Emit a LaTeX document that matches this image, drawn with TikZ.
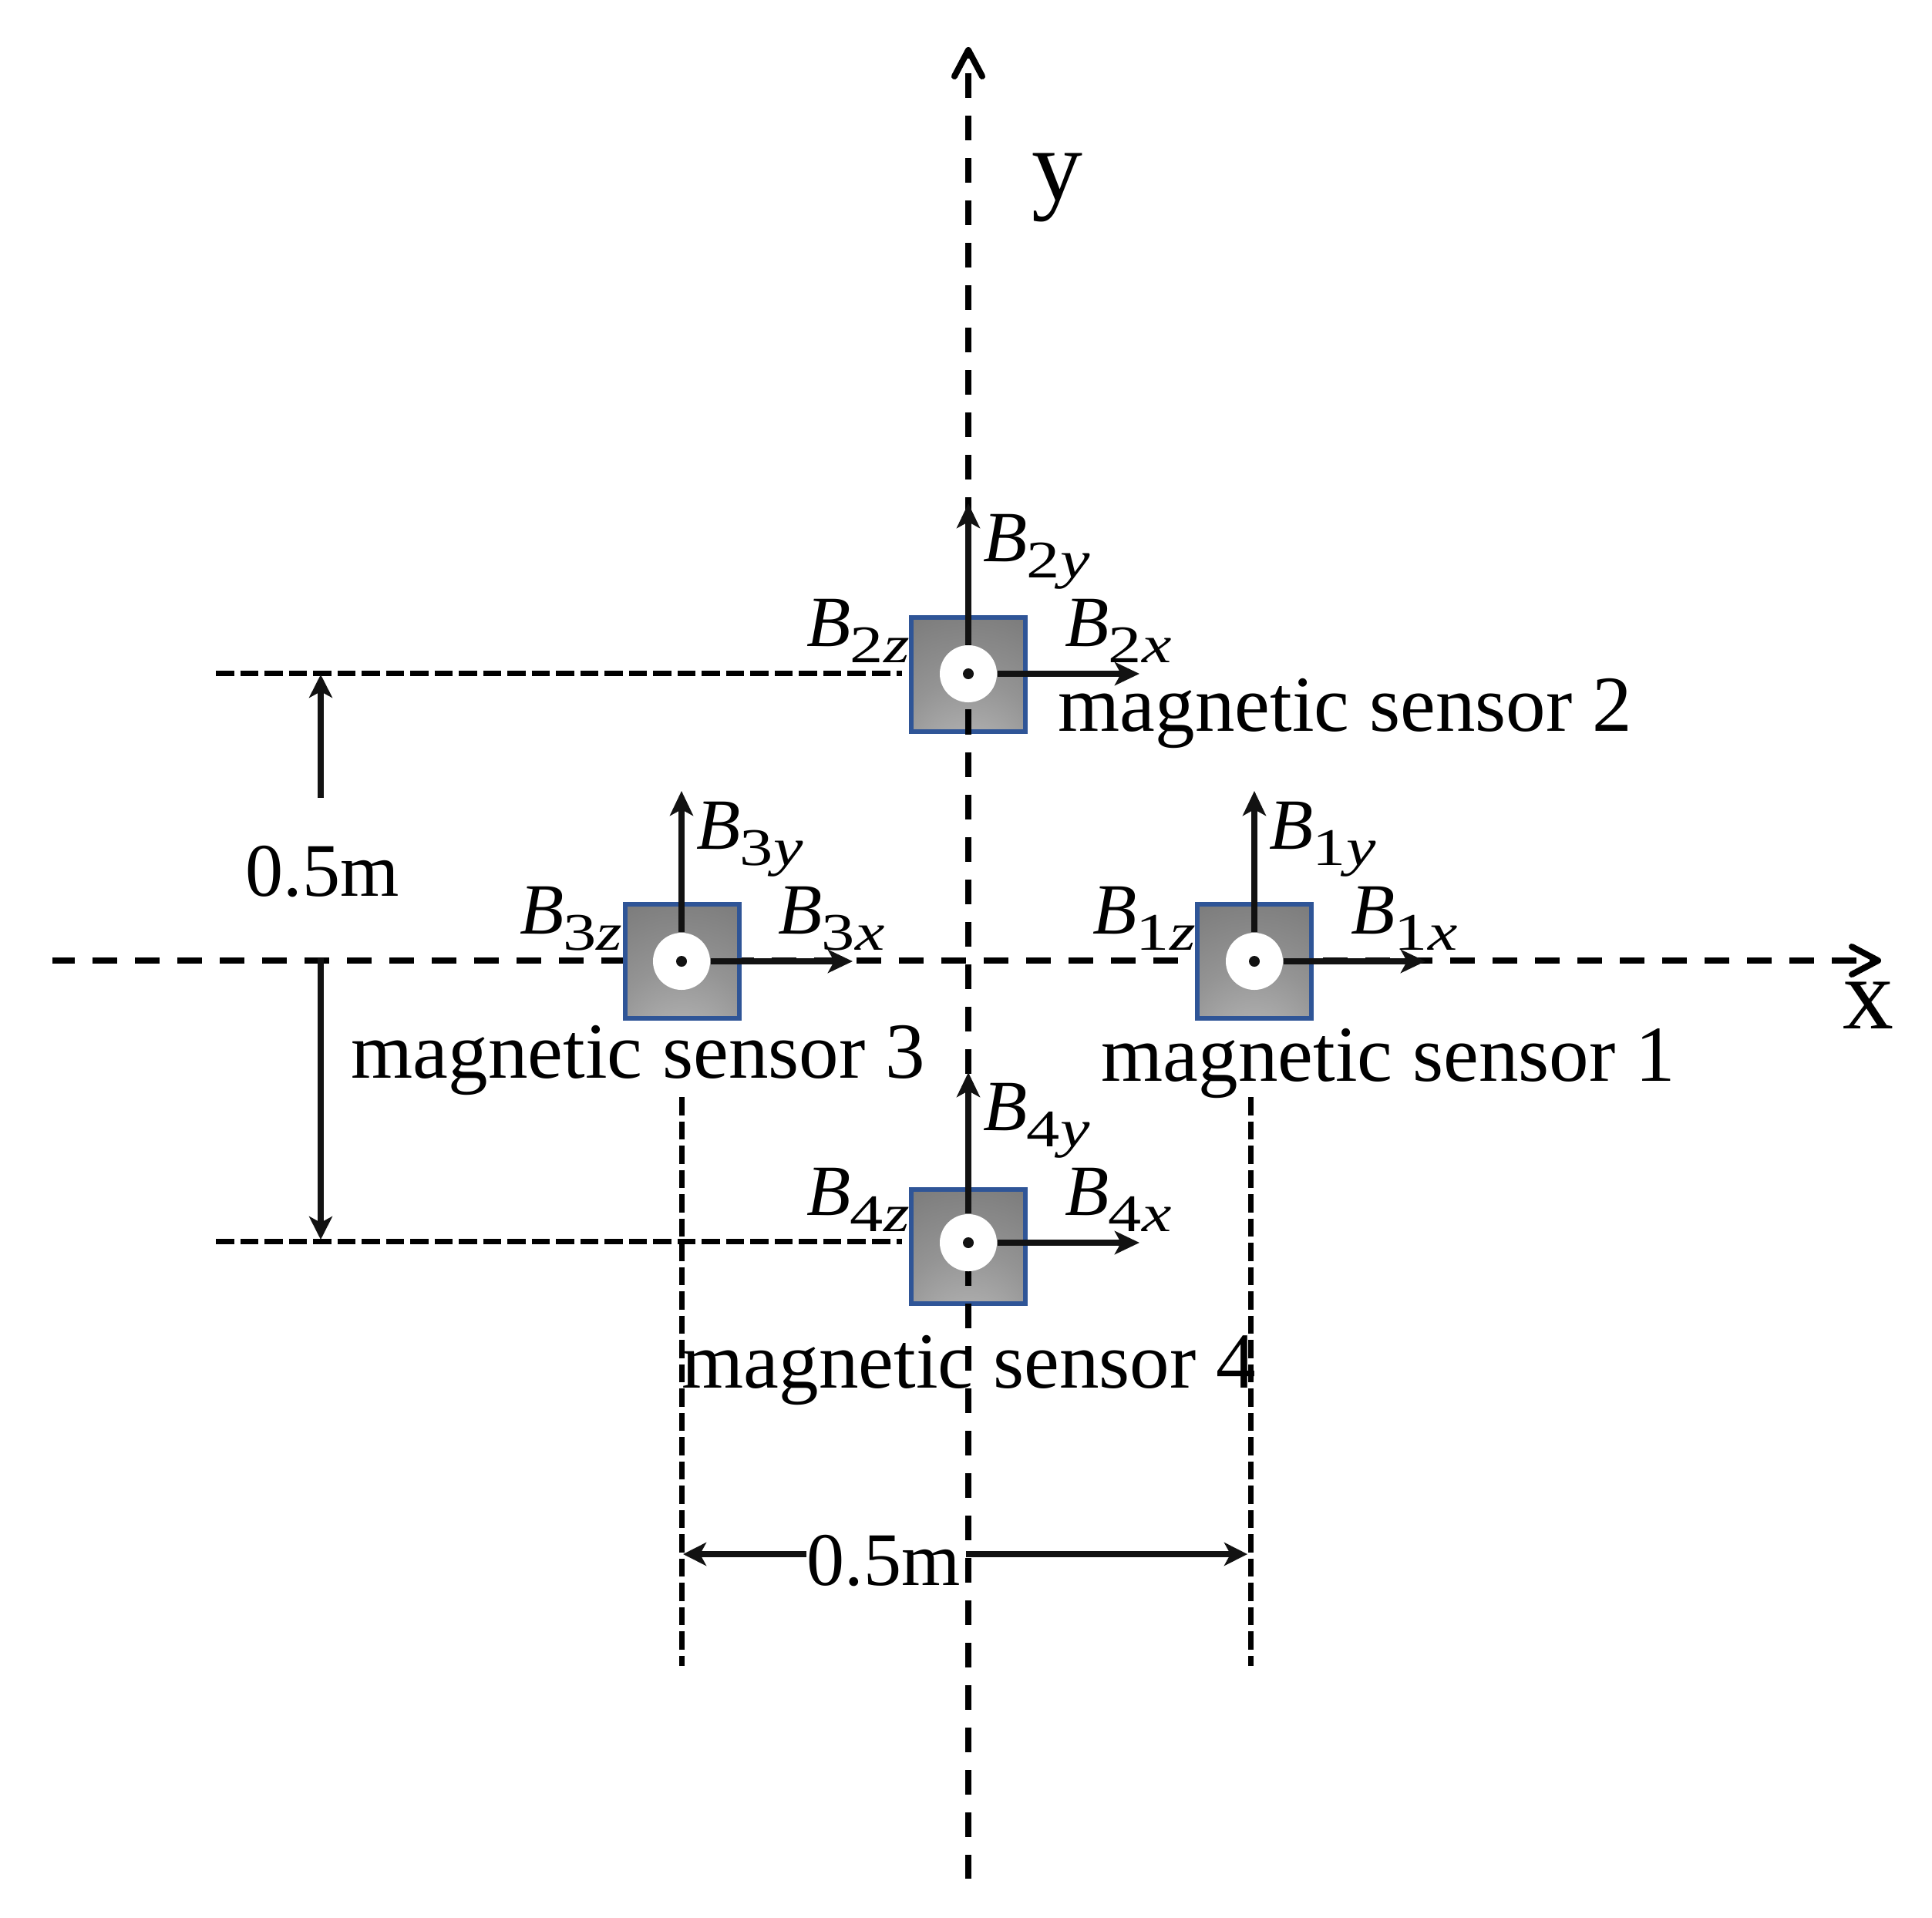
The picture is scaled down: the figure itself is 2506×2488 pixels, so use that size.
\documentclass[tikz,border=0pt]{standalone}
\usepackage{fontspec}
\setmainfont{Liberation Serif}
\usepackage{graphicx}
\usetikzlibrary{arrows.meta}
\pgfdeclareradialshading{sensorshade}{\pgfpoint{0bp}{-50bp}}{%
  rgb(0bp)=(0.77,0.77,0.77);
  rgb(32bp)=(0.58,0.58,0.58);
  rgb(71bp)=(0.41,0.41,0.41);
  rgb(100bp)=(0.36,0.36,0.36)}
\definecolor{sensorblue}{HTML}{2F5597}
\newcommand\Blab[2]{{\fontsize{26.6}{30}\selectfont\itshape B}\kern-0.3pt\raisebox{-6pt}{\scalebox{1.26}[1]{\fontsize{19.5}{20}\selectfont\upshape #1\itshape #2}}}
\tikzset{
  x=0.01cm,y=-0.01cm,
  axisdash/.style={line width=0.08cm,draw=black,dash pattern=on 0.32cm off 0.23cm},
  axistip/.style={line width=0.08cm,draw=black,-{Straight Barb[length=0.34cm,width=0.36cm,round,line width=0.08cm]}},
  guideline/.style={line width=0.07cm,draw=black,dash pattern=on 0.235cm off 0.08cm},
  vecarrow/.style={line width=0.08cm,draw=black!93,-{Stealth[length=0.32cm,width=0.30cm,inset=0.08cm]}},
  dimarrow/.style={line width=0.08cm,draw=black!93,-{Stealth[length=0.30cm,width=0.30cm,inset=0.08cm]}},
  sensorbox/.style={minimum size=1.48cm,inner sep=0pt,line width=0.06cm,draw=sensorblue,shading=sensorshade},
  holecircle/.style={circle,fill=white,minimum size=0.74cm,inner sep=0pt},
  centredot/.style={circle,fill=black!93,minimum size=0.14cm,inner sep=0pt},
  sensorlabel/.style={anchor=base west,inner sep=0pt,font=\fontsize{29.3}{32}\selectfont},
  dimlabel/.style={anchor=base west,inner sep=0pt,font=\fontsize{27.9}{30}\selectfont},
  axislabel/.style={anchor=base west,inner sep=0pt,font=\fontsize{37.5}{40}\selectfont},
  complabel/.style={anchor=base west,inner sep=0pt},
}
\begin{document}
\begin{tikzpicture}
\useasboundingbox (0,0) rectangle (2506,2488);
% horizontal axis and guides under the sensors
\coordinate (xstart) at (68,1246);
\coordinate (xend) at (2408,1246);
\coordinate (xneck) at (2425,1246);
\coordinate (xtip) at (2440,1246);
\draw[axisdash,dash phase=0.03cm] (xstart) -- (xend);
\draw[axistip] (xneck) -- (xtip);
\coordinate (g2a) at (280,873); \coordinate (g2b) at (1170,873);
\coordinate (g4a) at (280,1610); \coordinate (g4b) at (1170,1610);
\draw[guideline] (g2a) -- (g2b);
\draw[guideline] (g4a) -- (g4b);
\coordinate (v3a) at (884,1423); \coordinate (v3b) at (884,2161);
\coordinate (v1a) at (1622,1423); \coordinate (v1b) at (1622,2161);
\draw[guideline] (v3a) -- (v3b);
\draw[guideline] (v1a) -- (v1b);
% sensor squares
\node[sensorbox] (s1) at (1627,1247) {};
\node[sensorbox] (s2) at (1256,875) {};
\node[sensorbox] (s3) at (885,1247) {};
\node[sensorbox] (s4) at (1256,1617) {};
% vertical axis over the squares
\coordinate (ystart) at (1256,95);
\coordinate (yend) at (1256,2437);
\coordinate (yneck) at (1256,76);
\coordinate (ytip) at (1256,61);
\draw[axisdash] (ystart) -- (yend);
\draw[axistip] (yneck) -- (ytip);
% holes and vectors
\foreach \n/\cx/\cy in {1/1627/1247,2/1256/874,3/884/1247,4/1256/1612}{
  \node[holecircle] (c\n) at (\cx,\cy) {};
  \node[centredot] (d\n) at (\cx,\cy) {};
  \coordinate (ty\n) at (\cx,\cy-221);
  \coordinate (tx\n) at (\cx+222,\cy);
  \draw[vecarrow] (c\n.north) -- (ty\n);
  \draw[vecarrow] (c\n.east) -- (tx\n);
  \node[complabel] (by\n) at (\cx+19,\cy-146) {\Blab{\n}{y}};
  \node[complabel] (bx\n) at (\cx+125,\cy-36) {\Blab{\n}{x}};
  \node[complabel] (bz\n) at (\cx-210,\cy-36) {\Blab{\n}{z}};
}
% sensor names
\node[sensorlabel] (n1) at (1428,1402) {magnetic sensor 1};
\node[sensorlabel] (n2) at (1372,948) {magnetic sensor 2};
\node[sensorlabel] (n3) at (455,1398) {magnetic sensor 3};
\node[sensorlabel] (n4) at (884,1800) {magnetic sensor 4};
% axis names
\node[axislabel] (lx) at (2390,1334) {x};
\node[axislabel] (ly) at (1338,260) {y};
% dimensions
\node[dimlabel] (dimv) at (318,1162) {0.5m};
\node[dimlabel] (dimh) at (1046,2056) {0.5m};
\coordinate (du0) at (416,1035); \coordinate (du1) at (416,875);
\coordinate (dd0) at (416,1243); \coordinate (dd1) at (416,1608);
\draw[dimarrow] (du0) -- (du1);
\draw[dimarrow] (dd0) -- (dd1);
\coordinate (dl0) at (1046,2016); \coordinate (dl1) at (886,2016);
\coordinate (dr0) at (1253,2016); \coordinate (dr1) at (1618,2016);
\draw[dimarrow] (dl0) -- (dl1);
\draw[dimarrow] (dr0) -- (dr1);
\end{tikzpicture}
\end{document}
